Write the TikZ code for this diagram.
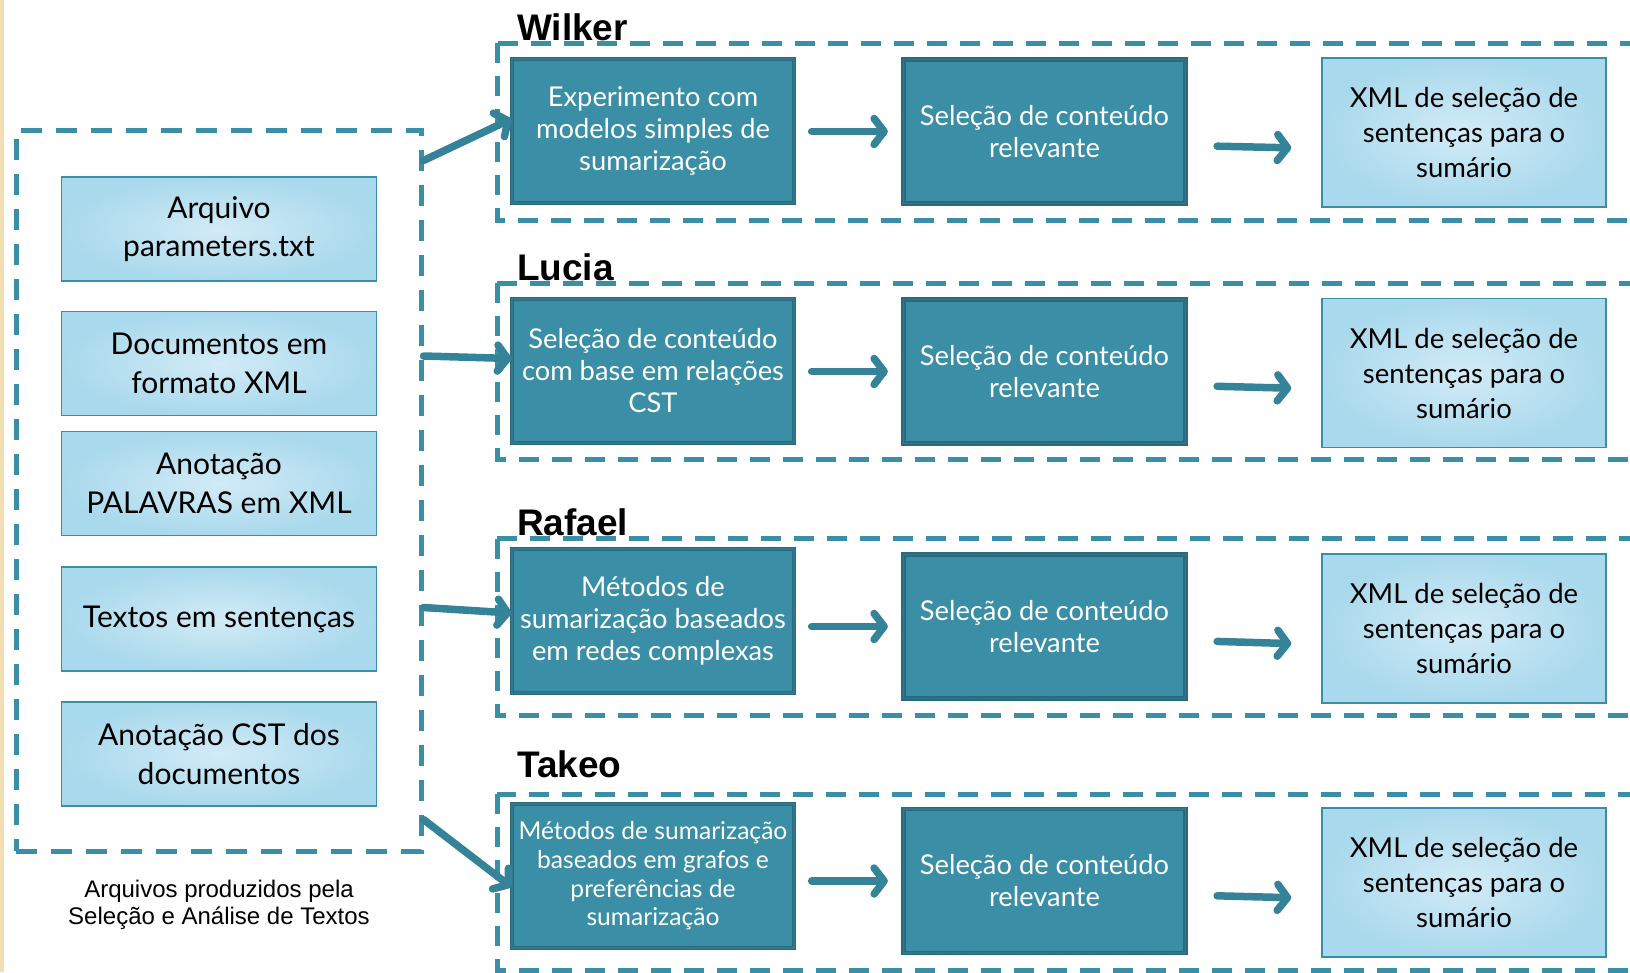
\documentclass[tikz,border=0pt]{standalone}
\usepackage{fontspec}
\setmainfont{Lato}
\newfontfamily\arial{Liberation Sans}
\usetikzlibrary{arrows.meta}
\definecolor{azul}{HTML}{3A8EA5}
\definecolor{azulesc}{HTML}{2B6A7D}
\definecolor{claro}{HTML}{A9D9EC}
\definecolor{clarocentro}{HTML}{D2EBF6}
\definecolor{bege}{HTML}{F1DFB2}

\begin{document}
\begin{tikzpicture}[x=1pt,y=-1pt,
  tracejado/.style={draw=azul,line width=5pt,dash pattern=on 21pt off 14pt},
  grupo/.style={draw=azul,line width=5pt,dash pattern=on 20pt off 13pt},
  escura/.style={rectangle,draw=azulesc,line width=1.3pt,double=azulesc!60!azul,double distance=1.6pt,
    fill=azul,text=white,minimum width=282pt,minimum height=144pt,inner sep=0pt,align=center,
    font=\fontsize{27.3}{32}\selectfont},
  clara/.style={rectangle,draw=azul,line width=1.5pt,inner color=clarocentro,outer color=claro,
    minimum width=284pt,minimum height=149pt,inner sep=0pt,align=center,
    font=\fontsize{27.5}{35}\selectfont},
  arquivo/.style={rectangle,draw=azul,line width=1.5pt,inner color=clarocentro,outer color=claro,
    minimum width=315pt,minimum height=104pt,inner sep=0pt,align=center,
    font=\fontsize{30}{38.5}\selectfont},
  nome/.style={anchor=base west,inner sep=0pt,font=\arial\bfseries\fontsize{37}{40}\selectfont},
  seta/.style={draw=azul!92!black,line width=7.5pt,line cap=round,-{Straight Barb[round,length=10pt,width=26pt]}}
]
\clip (0,0) rectangle (1630,972);
\fill[bege] (0,0) rectangle (4,972);

\node[tracejado,minimum width=405pt,minimum height=721pt] (entrada) at (218.5,490.5) {};
\node[arquivo] (a1) at (219,229) {Arquivo\\parameters.txt};
\node[arquivo] (a2) at (219,363.5) {Documentos em\\formato XML};
\node[arquivo] (a3) at (219,483.5) {Anotação\\PALAVRAS em XML};
\node[arquivo] (a4) at (219,619) {Textos em sentenças};
\node[arquivo] (a5) at (219,754) {Anotação CST dos\\documentos};
\node[align=center,font=\arial\fontsize{24}{27.5}\selectfont] (legenda) at (219,905)
  {Arquivos produzidos pela\\Seleção e Análise de Textos};

\draw[grupo] (497,43) rectangle (1700,220);
\draw[grupo] (497,283) rectangle (1700,459.5);
\draw[grupo] (497,538.5) rectangle (1700,715);
\draw[grupo] (497,794) rectangle (1700,970);

\node[nome] (wilker) at (517,40) {Wilker};
\node[nome] (lucia) at (517,280.5) {Lucia};
\node[nome] (rafael) at (517,535.5) {Rafael};
\node[nome] (takeo) at (517,777) {Takeo};

% Wilker
\node[escura] (w1) at (653,131) {Experimento com\\modelos simples de\\sumarização};
\node[escura] (w2) at (1044.5,131.5) {Seleção de conteúdo\\relevante};
\node[clara] (w3) at (1464,132.5) {XML de seleção de\\sentenças para o\\sumário};
% Lucia
\node[escura] (l1) at (653,371) {Seleção de conteúdo\\com base em relações\\CST};
\node[escura] (l2) at (1044.5,371.5) {Seleção de conteúdo\\relevante};
\node[clara] (l3) at (1464,373) {XML de seleção de\\sentenças para o\\sumário};
% Rafael
\node[escura] (r1) at (653,621) {Métodos de\\sumarização baseados\\em redes complexas};
\node[escura] (r2) at (1044.5,626.5) {Seleção de conteúdo\\relevante};
\node[clara] (r3) at (1464,628.5) {XML de seleção de\\sentenças para o\\sumário};
% Takeo
\node[escura,font=\fontsize{24.6}{28.6}\selectfont] (t1) at (653,876)
  {Métodos de sumarização\\baseados em grafos e\\preferências de\\sumarização};
\node[escura] (t2) at (1044.5,881) {Seleção de conteúdo\\relevante};
\node[clara] (t3) at (1464,882.5) {XML de seleção de\\sentenças para o\\sumário};

\draw[seta] ([yshift=-33pt]entrada.north east) -- ([yshift=12pt]w1.west);
\draw[seta] ([yshift=-228.5pt]entrada.north east) -- ([yshift=12.5pt]l1.west);
\draw[seta] ([yshift=-480pt]entrada.north east) -- ([yshift=8pt]r1.west);
\draw[seta] ([yshift=-692pt]entrada.north east) -- ([yshift=-11pt]t1.west);

\foreach \g in {w,l,r,t}{
  \draw[seta,shorten <=17pt,shorten >=15pt] (\g1.east |- \g2.west) -- (\g2.west);
  \draw[seta,shorten <=31pt,shorten >=30pt] ([yshift=-14pt]\g2.east) -- ([yshift=-16pt]\g3.west);
}
\end{tikzpicture}
\end{document}
